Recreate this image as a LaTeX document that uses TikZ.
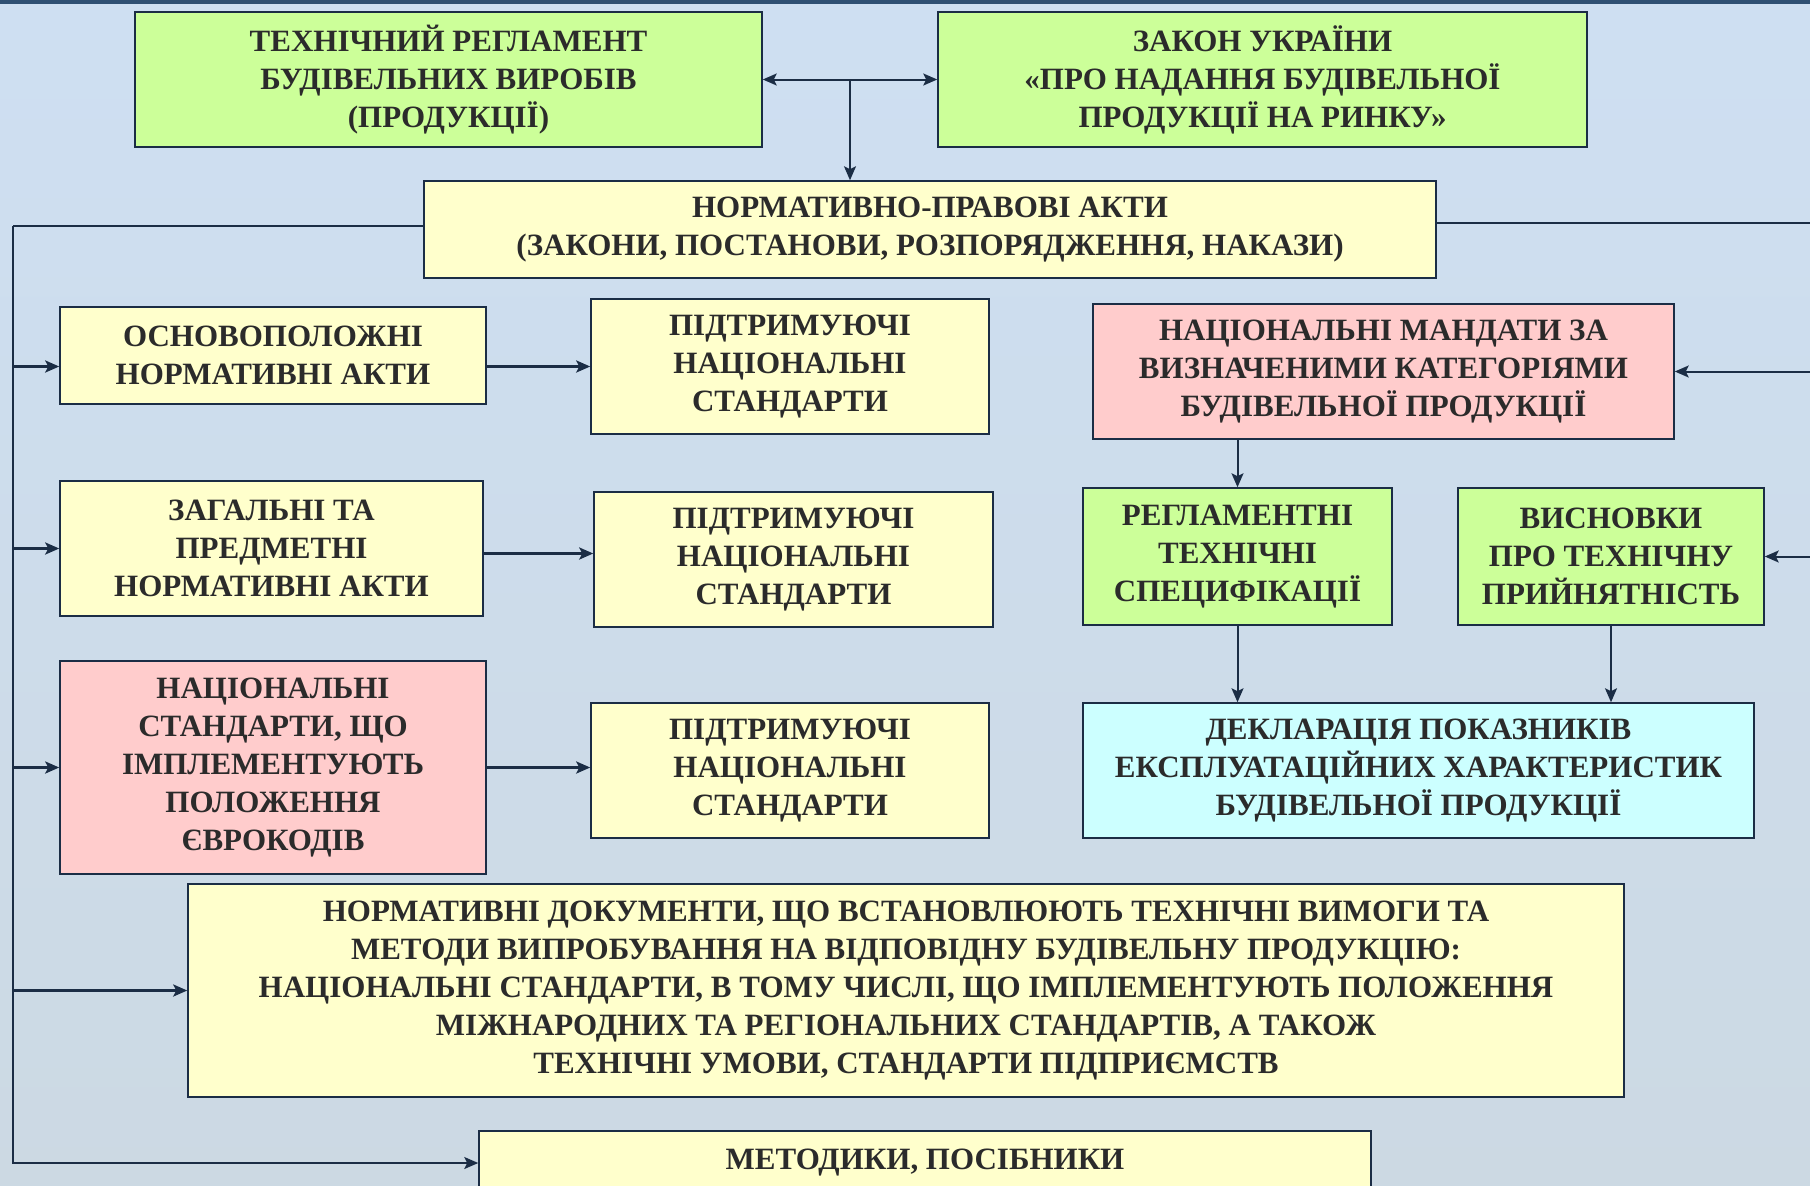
\documentclass[tikz,border=0pt]{standalone}
\usepackage{fontspec}
\setmainfont{Liberation Serif}
\usetikzlibrary{arrows.meta, positioning}

\definecolor{bgtop}{HTML}{CEDFF2}
\definecolor{bgbot}{HTML}{CCD9E3}
\definecolor{band}{HTML}{2F5073}
\definecolor{ink}{HTML}{1B2D45}
\definecolor{txt}{HTML}{2B2B2B}
\definecolor{boxgreen}{HTML}{CCFF99}
\definecolor{boxyellow}{HTML}{FFFFCC}
\definecolor{boxpink}{HTML}{FFCCCC}
\definecolor{boxcyan}{HTML}{CCFFFF}

\tikzset{
  box/.style={draw=ink, line width=1.5pt, align=center, inner sep=0pt,
    text=txt, font=\bfseries\fontsize{31}{38}\selectfont},
  green/.style={box, fill=boxgreen},
  yellow/.style={box, fill=boxyellow},
  pink/.style={box, fill=boxpink},
  cyan/.style={box, fill=boxcyan},
  wire/.style={draw=ink, line width=2pt},
  arr/.style={wire, -{Stealth[length=14pt, width=12pt, inset=3pt]}},
  arrthick/.style={arr, line width=2.6pt},
  arrboth/.style={wire, {Stealth[length=14pt, width=12pt, inset=3pt]}-{Stealth[length=14pt, width=12pt, inset=3pt]}}
}

\begin{document}
\begin{tikzpicture}[x=1pt, y=-1pt]
    % background
    \useasboundingbox (0,0) rectangle (1810,1186);
    \shade[top color=bgtop, bottom color=bgbot] (0,0) rectangle (1810,1186);
    \fill[band] (0,0) rectangle (1810,4);

    % top row
    \node[green, minimum width=627pt, minimum height=135pt] (tr) at (448.5,79.5)
        {ТЕХНІЧНИЙ РЕГЛАМЕНТ\\БУДІВЕЛЬНИХ ВИРОБІВ\\(ПРОДУКЦІЇ)};
    \node[green, minimum width=649pt, minimum height=135pt] (zakon) at (1262.5,79.5)
        {ЗАКОН УКРАЇНИ\\«ПРО НАДАННЯ БУДІВЕЛЬНОЇ\\ПРОДУКЦІЇ НА РИНКУ»};
    \node[yellow, minimum width=1012pt, minimum height=97pt] (npa) at (930,229.5)
        {НОРМАТИВНО-ПРАВОВІ АКТИ\\(ЗАКОНИ, ПОСТАНОВИ, РОЗПОРЯДЖЕННЯ, НАКАЗИ)};

    % left column
    \node[yellow, minimum width=426pt, minimum height=97pt] (osn) at (273,355.5)
        {ОСНОВОПОЛОЖНІ\\НОРМАТИВНІ АКТИ};
    \node[yellow, minimum width=398pt, minimum height=135pt] (sup1) at (790,366.5)
        {ПІДТРИМУЮЧІ\\НАЦІОНАЛЬНІ\\СТАНДАРТИ};
    \node[yellow, minimum width=423pt, minimum height=135pt] (zag) at (271.5,548.5)
        {ЗАГАЛЬНІ ТА\\ПРЕДМЕТНІ\\НОРМАТИВНІ АКТИ};
    \node[yellow, minimum width=399pt, minimum height=135pt] (sup2) at (793.5,559.5)
        {ПІДТРИМУЮЧІ\\НАЦІОНАЛЬНІ\\СТАНДАРТИ};
    \node[pink, minimum width=426pt, minimum height=213pt] (nat) at (273,767.5)
        {НАЦІОНАЛЬНІ\\СТАНДАРТИ, ЩО\\ІМПЛЕМЕНТУЮТЬ\\ПОЛОЖЕННЯ\\ЄВРОКОДІВ};
    \node[yellow, minimum width=398pt, minimum height=135pt] (sup3) at (790,770.5)
        {ПІДТРИМУЮЧІ\\НАЦІОНАЛЬНІ\\СТАНДАРТИ};

    % right column
    \node[pink, minimum width=581pt, minimum height=135pt] (mand) at (1383.5,371.5)
        {НАЦІОНАЛЬНІ МАНДАТИ ЗА\\ВИЗНАЧЕНИМИ КАТЕГОРІЯМИ\\БУДІВЕЛЬНОЇ ПРОДУКЦІЇ};
    \node[green, minimum width=309pt, minimum height=137pt] (regl) at (1237.5,556.5)
        {РЕГЛАМЕНТНІ\\ТЕХНІЧНІ\\СПЕЦИФІКАЦІЇ};
    \node[green, minimum width=306pt, minimum height=137pt] (vysn) at (1611,556.5)
        {ВИСНОВКИ\\ПРО ТЕХНІЧНУ\\ПРИЙНЯТНІСТЬ};
    \node[cyan, minimum width=671pt, minimum height=135pt] (decl) at (1418.5,770.5)
        {ДЕКЛАРАЦІЯ ПОКАЗНИКІВ\\ЕКСПЛУАТАЦІЙНИХ ХАРАКТЕРИСТИК\\БУДІВЕЛЬНОЇ ПРОДУКЦІЇ};

    % bottom
    \node[yellow, minimum width=1436pt, minimum height=213pt] (nd) at (906,990.5)
        {НОРМАТИВНІ ДОКУМЕНТИ, ЩО ВСТАНОВЛЮЮТЬ ТЕХНІЧНІ ВИМОГИ ТА\\
         МЕТОДИ ВИПРОБУВАННЯ НА ВІДПОВІДНУ БУДІВЕЛЬНУ ПРОДУКЦІЮ:\\
         НАЦІОНАЛЬНІ СТАНДАРТИ, В ТОМУ ЧИСЛІ, ЩО ІМПЛЕМЕНТУЮТЬ ПОЛОЖЕННЯ\\
         МІЖНАРОДНИХ ТА РЕГІОНАЛЬНИХ СТАНДАРТІВ, А ТАКОЖ\\
         ТЕХНІЧНІ УМОВИ, СТАНДАРТИ ПІДПРИЄМСТВ};
    \node[yellow, minimum width=892pt, minimum height=64pt] (met) at (925,1163)
        {МЕТОДИКИ, ПОСІБНИКИ};

    \coordinate (junc) at (850,79.5);
    \coordinate (spine) at (13,226);
    \coordinate (edge) at (1812,223);

    % connectors
    \draw[arrboth] (tr) -- (zakon);
    \draw[arr] (junc) -- (junc |- npa.north);
    \draw[wire] (npa.west |- spine) -- (spine);
    \draw[arr] (spine) -- (spine |- met) -- (met.west);
    \draw[arrthick] (spine |- sup1) -- (osn.west |- sup1);
    \draw[arrthick] (osn.east |- sup1) -- (sup1.west);
    \draw[arrthick] (spine |- zag) -- (zag.west);
    \draw[arrthick] ([yshift=-5pt]zag.east) -- ([yshift=6pt]sup2.west);
    \draw[arrthick] (spine |- nat) -- (nat.west);
    \draw[arrthick] (nat.east) -- (nat.east -| sup3.west);
    \draw[arrthick] (spine |- nd) -- (nd.west);

    \draw[wire] (npa.east |- edge) -- (edge);
    \draw[arr] (edge |- mand) -- (mand.east);
    \draw[arr] (edge |- vysn) -- (vysn.east);
    \draw[arr] (mand.south -| regl) -- (regl.north);
    \draw[arr] (regl.south) -- (regl.south |- decl.north);
    \draw[arr] (vysn.south) -- (vysn.south |- decl.north);
\end{tikzpicture}
\end{document}
